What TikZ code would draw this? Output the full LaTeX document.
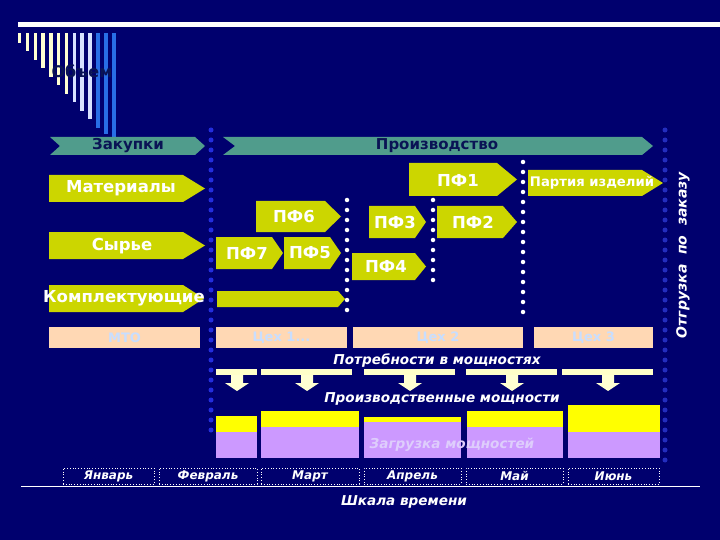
\documentclass[tikz,border=0pt]{standalone}
\usepackage{fontspec}
\setmainfont{DejaVu Sans}
\definecolor{bg}{RGB}{0,0,110}
\definecolor{yg}{RGB}{204,214,0}
\definecolor{teal1}{RGB}{80,156,140}
\definecolor{navytxt}{RGB}{10,20,85}
\definecolor{peach}{RGB}{255,216,180}
\definecolor{peachtxt}{RGB}{200,222,255}
\definecolor{cream}{RGB}{255,255,200}
\definecolor{ylw}{RGB}{255,255,0}
\definecolor{lav}{RGB}{204,153,255}
\definecolor{lavtxt}{RGB}{222,205,252}
\definecolor{dotblue}{RGB}{35,45,220}
\definecolor{dotblue2}{RGB}{35,45,190}
\definecolor{paley}{RGB}{255,255,210}
\definecolor{paleb}{RGB}{215,225,255}
\definecolor{stblue}{RGB}{40,110,230}
\newcommand\pentbox[5]{\fill[yg] (#1,#2) -- (#3,#2) -- (#4,{(#2+#5)/2}) -- (#3,#5) -- (#1,#5) -- cycle;}
\begin{document}
\begin{tikzpicture}[x=1pt,y=-1pt,
  lbl/.style={text=white,font=\bfseries\fontsize{16.5}{16.5}\selectfont,inner sep=0pt},
  hdr/.style={text=navytxt,font=\bfseries\fontsize{15}{15}\selectfont,inner sep=0pt},
  itl/.style={text=white,font=\bfseries\itshape\fontsize{13.6}{13.6}\selectfont,inner sep=0pt},
  peachbox/.style={fill=peach,text=peachtxt,font=\bfseries\fontsize{13}{13}\selectfont,inner sep=0pt},
  monthbox/.style={draw=white,dotted,line width=0.8pt,text=white,font=\bfseries\itshape\fontsize{12}{12}\selectfont,inner sep=0pt,minimum height=16},
  needbar/.style={fill=cream},
  bluedots/.style={dotblue,line width=5pt,line cap=round,dash pattern=on 0pt off 10pt},
  wdots/.style={white,line width=4.5pt,line cap=round,dash pattern=on 0pt off 10pt},
  downarr/.style={fill=paley}]
\useasboundingbox (0,0) rectangle (720,540);
\fill[bg] (0,0) rectangle (720,540);
% title decoration
\fill[white] (18,22) rectangle (720,27);
\foreach \i in {0,...,6} {\fill[paley] ({18+7.8*\i},33) rectangle ++(3.4,{10+8.5*\i});}
\foreach \i in {7,8,9} {\fill[paleb] ({18+7.8*\i},33) rectangle ++(3.4,{10+8.5*\i});}
\fill[stblue] (96,33) rectangle (100,128);
\fill[stblue] (104,33) rectangle (108,134);
\fill[stblue] (111.5,33) rectangle (116,138);
\node[text=navytxt,font=\bfseries\fontsize{16}{16}\selectfont,inner sep=0pt] (title) at (82,71) {Объем};
% dotted separators
\coordinate (b1t) at (211,130); \coordinate (b1b) at (211,440);
\coordinate (b2t) at (665,130); \coordinate (b2b) at (665,465);
\draw[bluedots] (b1t) -- (b1b);
\draw[dotblue2,line width=5pt,line cap=round,dash pattern=on 0pt off 10pt] (b2t) -- (b2b);
% header chevrons
\fill[teal1] (50,137) -- (195,137) -- (205,146) -- (195,155) -- (50,155) -- (60,146) -- cycle;
\node[hdr] (zak) at (128,146) {Закупки};
\fill[teal1] (223,137) -- (642,137) -- (653,146) -- (642,155) -- (223,155) -- (235,146) -- cycle;
\node[hdr] (proizv) at (437,146) {Производство};
% purchase arrows
\pentbox{49}{175}{183}{205}{202}
\node[lbl] (mat) at (121,188.5) {Материалы};
\pentbox{49}{232}{183}{205}{259}
\node[lbl] (syr) at (122,246) {Сырье};
\pentbox{49}{285}{183}{204}{312}
\node[lbl] (kompl) at (124,298.5) {Комплектующие};
% production arrows
\pentbox{256}{201}{325}{341}{232}
\node[lbl] (pf6) at (294,216.5) {ПФ6};
\pentbox{216}{237}{272}{283}{269}
\node[lbl] (pf7) at (247,253) {ПФ7};
\pentbox{284}{237}{330}{341}{269}
\node[lbl] (pf5) at (310,253) {ПФ5};
\pentbox{217}{291}{338}{345}{307}
\pentbox{409}{163}{497}{517}{196}
\node[lbl] (pf1) at (458,180) {ПФ1};
\pentbox{528}{170}{642}{663}{196}
\node[lbl,font=\bfseries\fontsize{13.2}{13.2}\selectfont] (partia) at (592,183) {Партия изделий};
\pentbox{369}{206}{415}{426}{238}
\node[lbl] (pf3) at (395,222) {ПФ3};
\pentbox{437}{206}{503}{517}{238}
\node[lbl] (pf2) at (473,222) {ПФ2};
\pentbox{352}{253}{415}{426}{280}
\node[lbl] (pf4) at (386,266.5) {ПФ4};
% white dotted lines
\coordinate (w1t) at (347,200); \coordinate (w1b) at (347,312);
\coordinate (w2t) at (433,200); \coordinate (w2b) at (433,283);
\coordinate (w3t) at (523,162); \coordinate (w3b) at (523,315);
\draw[wdots] (w1t) -- (w1b);
\draw[wdots] (w2t) -- (w2b);
\draw[wdots] (w3t) -- (w3b);
% shipment label
\node[text=white,font=\bfseries\itshape\fontsize{14}{14}\selectfont,inner sep=0pt,rotate=90] (otgr) at (683,255) {Отгрузка\ \ по\ \ заказу};
% peach shop boxes
\node[peachbox,minimum width=151,minimum height=21] (mto) at (124.5,337.5) {МТО};
\node[peachbox,minimum width=131,minimum height=21] (c1) at (281.5,337.5) {Цех 1...};
\node[peachbox,minimum width=170,minimum height=21] (c2) at (438,337.5) {Цех 2};
\node[peachbox,minimum width=119,minimum height=21] (c3) at (593.5,337.5) {Цех 3};
% needs
\node[itl] (need) at (437,361) {Потребности в мощностях};
\fill[needbar] (216,369) rectangle (257,375);
\fill[needbar] (261,369) rectangle (352,375);
\fill[needbar] (364,369) rectangle (455,375);
\fill[needbar] (466,369) rectangle (557,375);
\fill[needbar] (562,369) rectangle (653,375);
\foreach \c in {237,307,410,512,608} {
  \fill[downarr] (\c-6,375) -- (\c+6,375) -- (\c+6,383) -- (\c+12,383) -- (\c,391) -- (\c-12,383) -- (\c-6,383) -- cycle;}
\node[itl] (cap) at (442,399) {Производственные мощности};
% capacity blocks
\fill[ylw] (216,416) rectangle (257,432); \fill[lav] (216,432) rectangle (257,458);
\fill[ylw] (261,411) rectangle (359,427); \fill[lav] (261,427) rectangle (359,458);
\fill[ylw] (364,417) rectangle (461,422); \fill[lav] (364,422) rectangle (461,458);
\fill[ylw] (467,411) rectangle (563,427); \fill[lav] (467,427) rectangle (563,458);
\fill[ylw] (568,405) rectangle (660,432); \fill[lav] (568,432) rectangle (660,458);
\node[itl,text=lavtxt] (load) at (452,445) {Загрузка мощностей};
% months
\node[monthbox,minimum width=91] (jan) at (108.5,476) {Январь};
\node[monthbox,minimum width=98] (feb) at (208,476) {Февраль};
\node[monthbox,minimum width=98] (mar) at (310,476) {Март};
\node[monthbox,minimum width=97] (apr) at (412.5,476) {Апрель};
\node[monthbox,minimum width=97] (may) at (514.5,476) {Май};
\node[monthbox,minimum width=91] (jun) at (613.5,476) {Июнь};
\coordinate (axl) at (21,486.5); \coordinate (axr) at (700,486.5);
\draw[white,line width=1.2pt] (axl) -- (axr);
\node[itl] (scale) at (404,502) {Шкала времени};
\end{tikzpicture}
\end{document}
